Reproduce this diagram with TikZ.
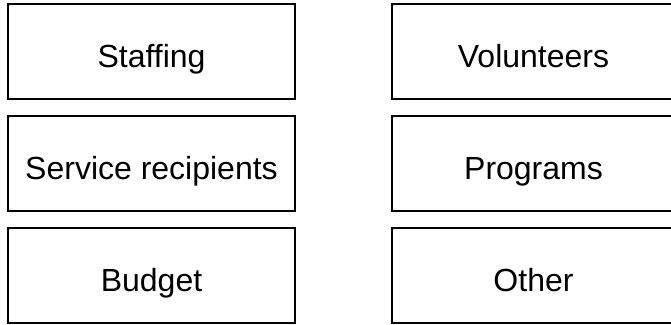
\documentclass[tikz,border=0pt]{standalone}
\usepackage{fontspec}
\setmainfont{Liberation Sans}
\begin{document}
\begin{tikzpicture}[x=1pt,y=-1pt,
  box/.style={draw=black,line width=2pt,rectangle,minimum width=287pt,minimum height=95.5pt,inner sep=0pt,outer sep=0pt},
  lbl/.style={anchor=base,inner sep=0pt,font=\fontsize{32}{36}\selectfont}]
\useasboundingbox (0,0) rectangle (671,324);
\clip (0,0) rectangle (671,324);
\node[box] (b1) at (151.5,51.5) {};
\node[box] (b2) at (535.5,51.5) {};
\node[box] (b3) at (151.5,163.5) {};
\node[box] (b4) at (535.5,163.5) {};
\node[box] (b5) at (151.5,275.5) {};
\node[box] (b6) at (535.5,275.5) {};
\node[lbl] (t1) at ([yshift=-15.5pt]b1.center) {Staffing};
\node[lbl] (t2) at ([yshift=-15.5pt,xshift=-2pt]b2.center) {Volunteers};
\node[lbl] (t3) at ([yshift=-16pt]b3.center) {Service recipients};
\node[lbl] (t4) at ([yshift=-16pt,xshift=-2pt]b4.center) {Programs};
\node[lbl] (t5) at ([yshift=-15.5pt]b5.center) {Budget};
\node[lbl] (t6) at ([yshift=-15.5pt,xshift=-2pt]b6.center) {Other};
\end{tikzpicture}
\end{document}
